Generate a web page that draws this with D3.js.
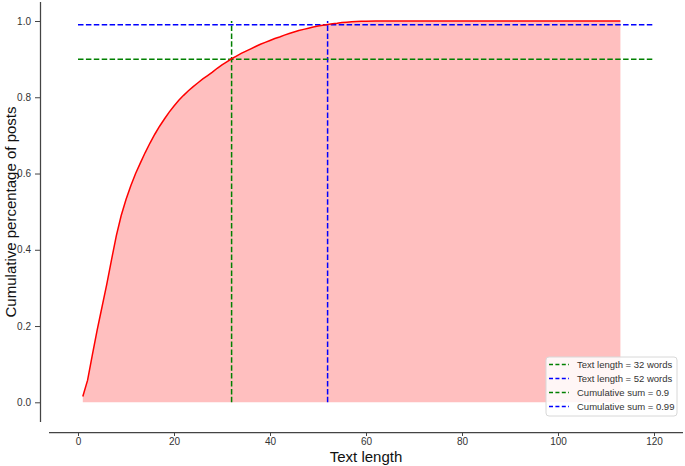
<!DOCTYPE html>
<meta charset="utf-8">
<style>
  body { margin: 0; background: #fff; }
  svg { font-family: "Liberation Sans", Arial, sans-serif; }
  .axis text { fill: #333; font-size: 10px; }
  .axis path, .axis line { stroke: #444; }
</style>
<svg width="685" height="466"></svg>
<script src="https://cdn.jsdelivr.net/npm/d3@7"></script>
<script>
// text length (words) and cumulative share of posts
var textLength = [1,2,3,4,5,6,7,8,9,10,11,12,13,14,15,16,17,18,19,20,
  21,22,23,24,25,26,27,28,29,30,31,32,33,34,35,36,37,38,39,40,
  41,42,43,44,45,46,47,48,49,50,51,52,53,54,55,56,57,58,59,60,
  62,65,70,80,90,100,113];
var cumShare = [0.015,0.058,0.125,0.19,0.25,0.31,0.375,0.438,0.49,0.532,
  0.568,0.60,0.628,0.655,0.68,0.703,0.724,0.743,0.761,0.777,
  0.792,0.805,0.817,0.828,0.838,0.848,0.857,0.866,0.876,0.885,
  0.893,0.901,0.908,0.915,0.921,0.927,0.933,0.939,0.944,0.949,
  0.954,0.958,0.963,0.967,0.971,0.975,0.978,0.981,0.984,0.987,
  0.989,0.991,0.993,0.994,0.996,0.997,0.998,0.999,0.9993,0.9996,
  0.9998,0.9999,1.0,1.0,1.0,1.0,1.0];

var xTicks = [0,20,40,60,80,100,120];
var yTicks = [0,0.2,0.4,0.6,0.8,1.0];

var vLines = [{x:32, color:"#008000", label:"Text length = 32 words"},
              {x:52, color:"#0000ff", label:"Text length = 52 words"}];
var hLines = [{y:0.9, color:"#008000", label:"Cumulative sum = 0.9"},
              {y:0.99, color:"#0000ff", label:"Cumulative sum = 0.99"}];

var svg = d3.select("svg");

var x = d3.scaleLinear().domain([0,120]).range([78,654]);
var y = d3.scaleLinear().domain([0,1]).range([402.3,21]);

var data = textLength.map(function(d,i){ return {x:d, y:cumShare[i]}; });

// filled area under the curve
svg.append("path")
  .datum(data)
  .attr("fill", "#ffbfbf")
  .attr("d", d3.area().x(function(d){return x(d.x);}).y0(y(0)).y1(function(d){return y(d.y);}));

// dashed reference lines
vLines.forEach(function(l){
  svg.append("line")
    .attr("x1", x(l.x)).attr("x2", x(l.x))
    .attr("y1", y(0)).attr("y2", y(1))
    .attr("stroke", l.color).attr("stroke-width", 1.5)
    .attr("stroke-dasharray", "5.5,2.4");
});
hLines.forEach(function(l){
  svg.append("line")
    .attr("x1", x(0)).attr("x2", x(120))
    .attr("y1", y(l.y)).attr("y2", y(l.y))
    .attr("stroke", l.color).attr("stroke-width", 1.5)
    .attr("stroke-dasharray", "5.5,2.4");
});

// the cumulative curve
svg.append("path")
  .datum(data)
  .attr("fill", "none")
  .attr("stroke", "#ff0000")
  .attr("stroke-width", 1.5)
  .attr("d", d3.line().x(function(d){return x(d.x);}).y(function(d){return y(d.y);}));

// axes, offset from the plot like seaborn despine
var xAxis = svg.append("g").attr("class","axis")
  .attr("transform","translate(0,432)")
  .call(d3.axisBottom(x).tickValues(xTicks).tickFormat(d3.format("d")).tickSize(4).tickPadding(2));
xAxis.select(".domain").attr("d","M49,0.5H683").attr("stroke-width",1.25);

var yAxis = svg.append("g").attr("class","axis")
  .attr("transform","translate(40,0)")
  .call(d3.axisLeft(y).tickValues(yTicks).tickFormat(d3.format(".1f")).tickSize(5).tickPadding(4));
yAxis.select(".domain").attr("d","M0.5,2V422").attr("stroke-width",1.25);

svg.append("text")
  .attr("x", 366).attr("y", 462)
  .attr("text-anchor","middle")
  .attr("font-size", 15).attr("fill","#111")
  .text("Text length");

svg.append("text")
  .attr("transform","translate(16,212) rotate(-90)")
  .attr("text-anchor","middle")
  .attr("font-size", 15).attr("fill","#111")
  .text("Cumulative percentage of posts");

// legend
var legendItems = vLines.concat(hLines);
var lg = svg.append("g").attr("transform","translate(546,357)");
lg.append("rect")
  .attr("width", 131).attr("height", 59).attr("rx", 3)
  .attr("fill","#fff").attr("fill-opacity",0.85)
  .attr("stroke","#d8d8d8");
legendItems.forEach(function(d,i){
  var ry = 7.5 + i*14;
  lg.append("line")
    .attr("x1", 3).attr("x2", 23).attr("y1", ry).attr("y2", ry)
    .attr("stroke", d.color).attr("stroke-width", 1.5)
    .attr("stroke-dasharray","4,2.4");
  lg.append("text")
    .attr("x", 31).attr("y", ry + 3.3)
    .attr("font-size", 9.5).attr("fill","#333")
    .text(d.label);
});
</script>
